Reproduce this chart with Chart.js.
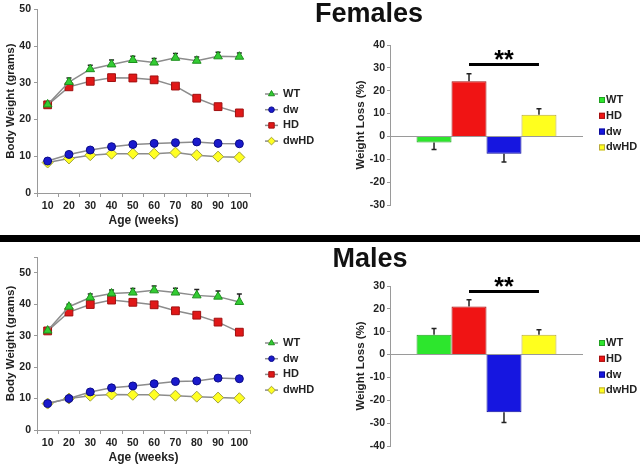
<!DOCTYPE html>
<html>
<head>
<meta charset="utf-8">
<script src="https://cdn.jsdelivr.net/npm/chart.js@4.4.1/dist/chart.umd.min.js"></script>
<style>
  body { margin: 0; background: #fff; width: 640px; height: 469px; overflow: hidden; position: relative; font-family: 'Liberation Sans', Arial, sans-serif; }
  canvas { position: absolute; }
  .ttl { position: absolute; width: 200px; text-align: center; font-weight: bold; font-size: 27px; line-height: 27px; color: #111; }
  #sep { position: absolute; left: 0; top: 235px; width: 640px; height: 7px; background: #000; }
</style>
</head>
<body>
<canvas id="fLine" width="320" height="232" style="left:0;top:0"></canvas>
<canvas id="fBar" width="320" height="232" style="left:320px;top:0"></canvas>
<div id="sep"></div>
<canvas id="mLine" width="320" height="227" style="left:0;top:242px"></canvas>
<canvas id="mBar" width="320" height="227" style="left:320px;top:242px"></canvas>
<div class="ttl" style="left:269px;top:0">Females</div>
<div class="ttl" style="left:270px;top:245px">Males</div>
<script>
const ages = ['10', '20', '30', '40', '50', '60', '70', '80', '90', '100'];

// females, body weight (g)
const femaleWT = [24.1, 30.2, 33.7, 35.0, 36.2, 35.5, 36.8, 36.0, 37.2, 37.1];
const femaleWTErr = [0.6, 1.1, 1.1, 1.2, 1.0, 1.1, 1.2, 1.0, 1.1, 1.0];
const femaleDw = [8.7, 10.5, 11.7, 12.6, 13.2, 13.5, 13.7, 13.9, 13.5, 13.4];
const femaleDwErr = [0.4, 0.5, 0.6, 0.6, 0.7, 0.7, 0.8, 0.7, 0.8, 0.7];
const femaleHD = [24.0, 28.9, 30.4, 31.4, 31.3, 30.8, 29.1, 25.8, 23.5, 21.8];
const femaleHDErr = [0.5, 0.6, 0.6, 0.6, 0.6, 0.6, 0.6, 0.6, 0.6, 0.6];
const femaleDwHD = [8.3, 9.4, 10.3, 10.7, 10.7, 10.7, 11.0, 10.3, 9.9, 9.7];
const femaleDwHDErr = [0.3, 0.4, 0.5, 0.5, 0.6, 0.6, 0.6, 0.6, 0.7, 0.7];

// males, body weight (g)
const maleWT = [31.6, 39.2, 42.1, 43.4, 43.7, 44.4, 43.7, 42.8, 42.4, 40.7];
const maleWTErr = [0.4, 0.8, 1.1, 1.1, 1.3, 1.4, 1.4, 1.9, 1.8, 2.5];
const maleDw = [8.4, 10.0, 12.1, 13.4, 14.0, 14.7, 15.4, 15.6, 16.5, 16.3];
const maleDwErr = [0.3, 0.4, 0.4, 0.4, 0.4, 0.4, 0.4, 0.4, 0.5, 0.5];
const maleHD = [31.5, 37.5, 39.9, 41.3, 40.6, 39.8, 37.9, 36.5, 34.3, 31.1];
const maleHDErr = [0.5, 0.5, 0.5, 0.5, 0.5, 0.5, 0.5, 0.5, 0.6, 0.6];
const maleDwHD = [8.4, 10.0, 10.9, 11.3, 11.2, 11.2, 10.9, 10.6, 10.3, 10.1];
const maleDwHDErr = [0.3, 0.3, 0.3, 0.3, 0.3, 0.3, 0.3, 0.3, 0.3, 0.3];

// weight loss (%)
const groups = ['WT', 'HD', 'dw', 'dwHD'];
const femaleLoss = [-2.7, 24.1, -7.6, 9.5];
const femaleLossErr = [3.0, 3.3, 3.6, 2.6];
const maleLoss = [8.7, 21.0, -25.2, 8.7];
const maleLossErr = [2.7, 3.0, 4.5, 2.2];

const FONT = "'Liberation Sans', Arial, sans-serif";
const AXIS = '#9a9a9a';
const INK = '#222';

const STYLES = {
  WT:   { pointStyle: 'triangle', radius: 5,   fill: '#33cc33', border: '#1d8f1d', bar: '#2de62d', barBorder: '#22a022' },
  dw:   { pointStyle: 'circle',   radius: 4,   fill: '#1a1acc', border: '#0a0a88', bar: '#1616e0', barBorder: '#0c0c99' },
  HD:   { pointStyle: 'rect',     radius: 5.5, fill: '#e01818', border: '#a01010', bar: '#f01414', barBorder: '#a31010' },
  dwHD: { pointStyle: 'rectRot',  radius: 5.5, fill: '#ffff22', border: '#a0a040', bar: '#ffff1e', barBorder: '#b8a840' },
};

const errorBars = {
  id: 'errorBars',
  beforeDatasetsDraw(chart) {
    const ctx = chart.ctx;
    const y = chart.scales.y;
    chart.data.datasets.forEach((ds, i) => {
      if (!ds.errors) return;
      chart.getDatasetMeta(i).data.forEach((el, j) => {
        const v = ds.data[j];
        const end = v < 0 ? v - ds.errors[j] : v + ds.errors[j];
        const y0 = y.getPixelForValue(v), y1 = y.getPixelForValue(end);
        ctx.save();
        ctx.strokeStyle = INK;
        ctx.lineWidth = 1.5;
        ctx.beginPath();
        ctx.moveTo(el.x, y0);
        ctx.lineTo(el.x, y1);
        ctx.moveTo(el.x - 2.5, y1);
        ctx.lineTo(el.x + 2.5, y1);
        ctx.stroke();
        ctx.restore();
      });
    });
  }
};

const sideLegend = {
  id: 'sideLegend',
  afterDraw(chart, args, opts) {
    const ctx = chart.ctx;
    const area = chart.chartArea;
    ctx.save();
    ctx.font = 'bold 11px ' + FONT;
    ctx.textBaseline = 'middle';
    chart.data.datasets.forEach((ds, i) => {
      const s = STYLES[ds.label];
      const y = opts.top + i * opts.step;
      const x = area.right + opts.dx;
      if (opts.kind === 'line') {
        ctx.strokeStyle = '#8c8c8c';
        ctx.lineWidth = 1.5;
        ctx.beginPath();
        ctx.moveTo(x, y);
        ctx.lineTo(x + 13, y);
        ctx.stroke();
        ctx.fillStyle = s.fill;
        ctx.strokeStyle = s.border;
        ctx.lineWidth = 1;
        Chart.helpers.drawPoint(ctx, { pointStyle: s.pointStyle, radius: s.radius * 0.7, borderWidth: 1, rotation: 0 }, x + 6.5, y);
        ctx.fillStyle = INK;
        ctx.fillText(ds.label, x + 18, y);
      } else {
        ctx.fillStyle = s.bar;
        ctx.strokeStyle = s.barBorder;
        ctx.lineWidth = 1;
        ctx.fillRect(x, y - 3, 6, 6);
        ctx.strokeRect(x + 0.5, y - 2.5, 5, 5);
        ctx.fillStyle = INK;
        ctx.fillText(ds.label, x + 7, y);
      }
    });
    ctx.restore();
  }
};

const sigBracket = {
  id: 'sigBracket',
  afterDatasetsDraw(chart, args, opts) {
    const ctx = chart.ctx;
    const x0 = chart.getDatasetMeta(opts.from).data[0].x;
    const x1 = chart.getDatasetMeta(opts.to).data[0].x;
    const y = chart.scales.y.getPixelForValue(opts.value);
    ctx.save();
    ctx.strokeStyle = '#000';
    ctx.lineWidth = 3;
    ctx.beginPath();
    ctx.moveTo(x0, y);
    ctx.lineTo(x1, y);
    ctx.stroke();
    ctx.fillStyle = '#000';
    ctx.font = 'bold 25px ' + FONT;
    ctx.textAlign = 'center';
    ctx.textBaseline = 'alphabetic';
    ctx.fillText(opts.text, (x0 + x1) / 2, y + 4);
    ctx.restore();
  }
};

function tickFont(size) {
  return { family: FONT, weight: 'bold', size };
}

function lineSet(name, data, errors) {
  const s = STYLES[name];
  return {
    label: name, data, errors,
    borderColor: '#8c8c8c', borderWidth: 1.5,
    pointStyle: s.pointStyle, pointRadius: s.radius,
    pointBackgroundColor: s.fill, pointBorderColor: s.border, pointBorderWidth: 1,
  };
}

function barSets(values, errors) {
  return groups.map((g, i) => ({
    label: g, data: [values[i]], errors: [errors[i]],
    backgroundColor: STYLES[g].bar, borderColor: STYLES[g].barBorder, borderWidth: 1,
    barPercentage: 1, categoryPercentage: 0.725,
  }));
}

function lineOptions(yMax, padTop, legendTop) {
  return {
    responsive: false,
    animation: false,
    layout: { padding: { top: padTop, right: 70, left: 0, bottom: 0 } },
    plugins: {
      legend: { display: false },
      tooltip: { enabled: false },
      sideLegend: { kind: 'line', top: legendTop, step: 15.7, dx: 15 },
    },
    scales: {
      x: {
        offset: true,
        grid: { offset: true, drawOnChartArea: false, color: AXIS, tickLength: 4 },
        border: { color: AXIS },
        ticks: { color: INK, font: tickFont(10.5), padding: 3, maxRotation: 0, autoSkip: false },
        title: { display: true, text: 'Age (weeks)', color: INK, font: tickFont(12) },
        afterFit: s => { s.height = 39; },
      },
      y: {
        min: 0, max: yMax,
        grid: { drawOnChartArea: false, color: AXIS, tickLength: 3 },
        border: { color: AXIS },
        ticks: { stepSize: 10, color: INK, font: tickFont(10.5), padding: 3, callback: v => v % 10 === 0 ? v : '' },
        title: { display: true, text: 'Body Weight (grams)', color: INK, font: tickFont(11.5) },
        afterFit: s => { s.width = 37; },
      },
    },
  };
}

function barOptions(min, max, padTop, padBottom, legendTop, sigValue) {
  return {
    responsive: false,
    animation: false,
    layout: { padding: { top: padTop, bottom: padBottom, left: 30, right: 57 } },
    plugins: {
      legend: { display: false },
      tooltip: { enabled: false },
      sideLegend: { kind: 'bar', top: legendTop, step: 15.8, dx: 16 },
      sigBracket: { from: 1, to: 3, value: sigValue, text: '**' },
    },
    scales: {
      x: { display: false },
      y: {
        min, max,
        grid: { color: c => (c.tick && c.tick.value === 0) ? AXIS : 'rgba(0,0,0,0)', tickColor: AXIS, tickLength: 3 },
        border: { color: AXIS },
        ticks: { stepSize: 10, color: INK, font: tickFont(10.5), padding: 2 },
        title: { display: true, text: 'Weight Loss (%)', color: INK, font: tickFont(11.5) },
        afterFit: s => { s.width = 40; },
      },
    },
  };
}

new Chart(document.getElementById('fLine'), {
  type: 'line',
  data: {
    labels: ages,
    datasets: [
      lineSet('WT', femaleWT, femaleWTErr),
      lineSet('dw', femaleDw, femaleDwErr),
      lineSet('HD', femaleHD, femaleHDErr),
      lineSet('dwHD', femaleDwHD, femaleDwHDErr),
    ],
  },
  options: lineOptions(50, 9, 94),
  plugins: [errorBars, sideLegend],
});

new Chart(document.getElementById('fBar'), {
  type: 'bar',
  data: { labels: [''], datasets: barSets(femaleLoss, femaleLossErr) },
  options: barOptions(-30, 40, 45, 27, 100, 31.5),
  plugins: [errorBars, sideLegend, sigBracket],
});

new Chart(document.getElementById('mLine'), {
  type: 'line',
  data: {
    labels: ages,
    datasets: [
      lineSet('WT', maleWT, maleWTErr),
      lineSet('dw', maleDw, maleDwErr),
      lineSet('HD', maleHD, maleHDErr),
      lineSet('dwHD', maleDwHD, maleDwHDErr),
    ],
  },
  options: lineOptions(55, 15, 101),
  plugins: [errorBars, sideLegend],
});

new Chart(document.getElementById('mBar'), {
  type: 'bar',
  data: { labels: [''], datasets: barSets(maleLoss, maleLossErr) },
  options: barOptions(-40, 30, 44, 23, 101, 27.6),
  plugins: [errorBars, sideLegend, sigBracket],
});
</script>
</body>
</html>
